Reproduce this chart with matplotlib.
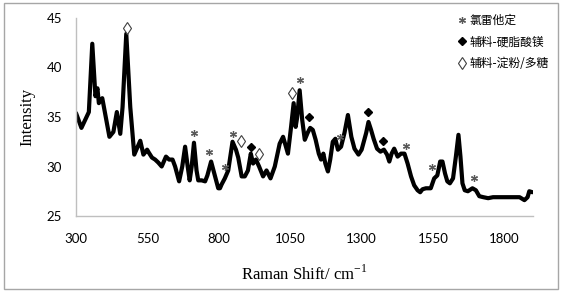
import matplotlib.pyplot as plt
from matplotlib.patches import Rectangle

# Raman spectrum
shift = [300, 319, 340, 345, 357, 368, 375, 380, 392, 417, 431, 443, 455, 463, 476, 490,
         504, 525, 536, 549, 555, 566, 577, 588, 600, 615, 626, 638, 647, 661, 672, 682,
         691, 698, 705, 713, 722, 728, 740, 752, 760, 773, 787, 798, 804, 810, 821, 833,
         848, 860, 868, 880, 891, 902, 912, 920, 930, 941, 955, 967, 981, 996, 1013, 1025,
         1042, 1053, 1062, 1069, 1074, 1083, 1092, 1101, 1111, 1120, 1129, 1139, 1150, 1158,
         1166, 1173, 1182, 1190, 1199, 1208, 1217, 1228, 1240, 1252, 1264, 1275, 1289, 1300,
         1316, 1324, 1333, 1342, 1354, 1366, 1378, 1389, 1397, 1405, 1414, 1426, 1438, 1450,
         1461, 1473, 1484, 1496, 1505, 1513, 1525, 1542, 1554, 1565, 1575, 1583, 1592, 1600,
         1609, 1620, 1630, 1639, 1646, 1653, 1661, 1672, 1688, 1700, 1712, 1726, 1743, 1760,
         1783, 1806, 1830, 1853, 1870, 1881, 1887, 1898]
intensity = [35.4, 33.9, 35.2, 35.5, 42.4, 37.1, 37.9, 36.4, 36.9, 33.0, 33.5, 35.5, 33.3, 36.0, 43.4, 36.0,
             31.2, 32.6, 31.2, 31.7, 31.4, 30.9, 30.7, 30.4, 30.0, 31.0, 30.7, 30.7, 30.0, 28.5, 30.0, 32.0,
             30.0, 28.6, 30.0, 32.4, 29.6, 28.6, 28.6, 28.5, 29.1, 30.5, 29.0, 27.8, 27.8, 28.2, 28.8, 29.6,
             32.5, 31.7, 30.9, 29.0, 29.0, 29.6, 31.3, 30.3, 30.7, 30.0, 29.0, 29.6, 28.8, 30.0, 32.3, 33.0,
             31.3, 34.0, 36.4, 34.0, 34.9, 37.7, 34.7, 32.7, 33.4, 33.9, 33.7, 32.7, 31.3, 30.7,
             31.3, 30.3, 29.5, 30.7, 32.5, 32.8, 31.7, 32.0, 33.4, 35.2, 33.0, 31.8, 31.2, 31.7,
             33.4, 34.5, 33.7, 32.8, 31.8, 31.5, 31.7, 31.2, 30.5, 31.3, 31.8, 31.0, 31.3, 31.3,
             30.3, 29.0, 28.1, 27.6, 27.4, 27.7, 27.8, 27.8, 28.8, 29.1, 30.5, 30.5, 29.3, 28.5,
             28.3, 28.8, 31.0, 33.2, 31.0, 28.3, 27.6, 27.5, 27.8, 27.6, 27.0, 26.9, 26.8, 26.9,
             26.9, 26.9, 26.9, 26.9, 26.6, 26.9, 27.5, 27.4]

# peak assignments
api_x = [713, 767, 821, 850, 1083, 1223, 1455, 1546, 1693]
api_y = [33.4, 31.5, 30.0, 33.3, 38.7, 33.0, 32.1, 29.9, 28.8]
mgst_x = [912, 1116, 1321, 1374]
mgst_y = [32.0, 35.0, 35.5, 32.6]
starch_x = [477, 876, 941, 1056]
starch_y = [44.0, 32.6, 31.3, 37.4]

labels = ['氯雷他定', '辅料-硬脂酸镁', '辅料-淀粉/多糖']
xticks = [300, 550, 800, 1050, 1300, 1550, 1800]
yticks = [25, 30, 35, 40, 45]

fig = plt.figure(figsize=(5.66, 2.93), dpi=100)
ax = fig.add_axes([76/566, 1 - 216/293, (533 - 76)/566, (216 - 18)/293])

ax.plot(shift, intensity, color='black', lw=3, solid_joinstyle='round', solid_capstyle='round', zorder=2)
h1, = ax.plot(api_x, api_y, ls='none', marker=(6, 2, 0), ms=5, mew=0.9, color='#595959')
h2, = ax.plot(mgst_x, mgst_y, ls='none', marker='D', ms=4.2, color='black')
h3, = ax.plot(starch_x, starch_y, ls='none', marker='d', ms=6.5, mfc='white', mec='#404040', mew=0.8)

ax.set_xlim(300, 1900)
ax.set_ylim(25, 45)
ax.set_xticks(xticks)
ax.set_yticks(yticks)
ax.tick_params(length=0, labelsize=9.5)
ax.tick_params(axis='y', pad=10)
ax.tick_params(axis='x', pad=12)
for lab in ax.get_xticklabels() + ax.get_yticklabels():
    lab.set_fontfamily('Lato')
for s in ['top', 'right']:
    ax.spines[s].set_visible(False)
for s in ['left', 'bottom']:
    ax.spines[s].set_color('#bfbfbf')
    ax.spines[s].set_linewidth(1)

ax.set_xlabel('Raman Shift/ cm$^{\\mathregular{-1}}$', fontfamily='Liberation Serif', fontsize=12)
ax.set_ylabel('Intensity', fontfamily='Liberation Serif', fontsize=12)
ax.xaxis.set_label_coords(0.5, -0.245)
ax.yaxis.set_label_coords(-0.088, 0.5)

ax.legend([h1, h2, h3], labels, loc='upper left', bbox_to_anchor=(453/566, 1 - 9/293),
          bbox_transform=fig.transFigure, frameon=False, handlelength=0.7, handletextpad=0.3,
          labelspacing=0.75, borderaxespad=0, prop={'family': ['Noto Sans CJK SC', 'DejaVu Sans'], 'size': 8.5})

fig.patches.append(Rectangle((4/566, 4/293), 554/566, 286/293, transform=fig.transFigure,
                             fill=False, edgecolor='#a6a6a6', lw=1))

fig.savefig('out.png', dpi=100)
